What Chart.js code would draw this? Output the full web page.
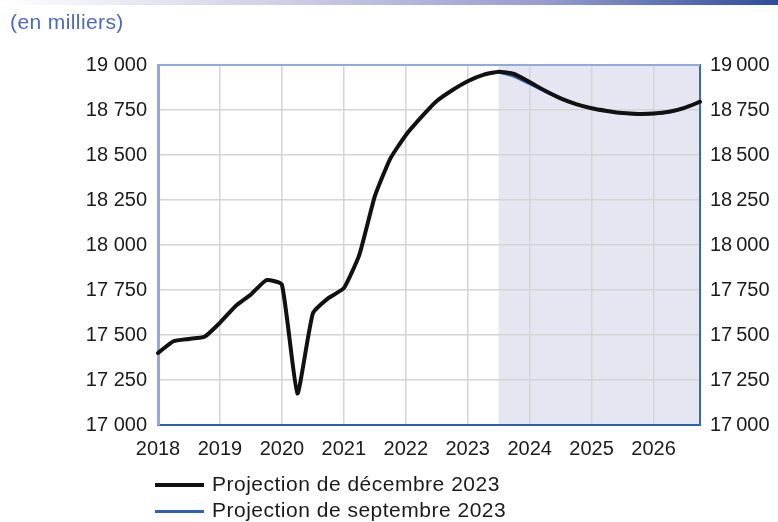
<!DOCTYPE html>
<html><head><meta charset="utf-8">
<script src="https://cdn.jsdelivr.net/npm/chart.js@4.4.0/dist/chart.umd.min.js"></script>
<style>
html,body{margin:0;padding:0;background:#fff;}
#wrap{position:relative;width:778px;height:522px;overflow:hidden;font-family:"Liberation Sans",Arial,sans-serif;}
#bar{position:absolute;left:0;top:0;width:778px;height:5px;background:linear-gradient(to right,#ffffff 0%,#d0d0e8 35%,#979cce 70%,#2d4c9c 100%);}
#title{position:absolute;left:10px;top:10px;font-size:21px;color:#4a6cb6;letter-spacing:0.4px;}
#c{position:absolute;left:0;top:0;}
.leg{position:absolute;left:155px;font-size:21px;color:#1a1a1a;white-space:nowrap;letter-spacing:0.5px;}
.leg i{display:inline-block;width:49px;vertical-align:middle;margin-right:8px;}
</style></head>
<body>
<div id="wrap">
<div id="bar"></div>
<canvas id="c" width="778" height="522"></canvas>
<div id="title">(en milliers)</div>
<div class="leg" id="leg1" style="top:472px;"><i style="height:4px;background:#111;"></i><span id="l1"></span></div>
<div class="leg" id="leg2" style="top:498px;"><i style="height:2.5px;background:#2f5fb8;"></i><span id="l2"></span></div>
</div>
<script>
const quarters = [
 "2018T1","2018T2","2018T3","2018T4","2019T1","2019T2","2019T3","2019T4",
 "2020T1","2020T2","2020T3","2020T4","2021T1","2021T2","2021T3","2021T4",
 "2022T1","2022T2","2022T3","2022T4","2023T1","2023T2","2023T3","2023T4",
 "2024T1","2024T2","2024T3","2024T4","2025T1","2025T2","2025T3","2025T4",
 "2026T1","2026T2","2026T3","2026T4"];
const projectionDec2023 = [17400,17465,17478,17490,17568,17660,17725,17805,
 17780,17175,17620,17705,17760,17945,18270,18480,
 18610,18710,18800,18860,18910,18945,18963,18950,
 18905,18857,18815,18783,18760,18745,18733,18728,
 18730,18740,18762,18796];
const projectionSep2023 = [17400,17465,17478,17490,17568,17660,17725,17805,
 17780,17175,17620,17705,17760,17945,18270,18480,
 18610,18710,18800,18860,18910,18945,18958,18936,
 18895,18852,18813,18781,18758,18743,18731,18726,
 18728,18738,18760,18794];
const seriesNames = ["Projection de décembre 2023","Projection de septembre 2023"];
const projectionStart = "2023T3";
const yTicks = {min:17000,max:19000,step:250};

document.getElementById('l1').textContent = seriesNames[0];
document.getElementById('l2').textContent = seriesNames[1];

function fmt(v, sep){ const s = String(v); return s.slice(0, s.length-3) + sep + s.slice(-3); }

const bgPlugin = {
  id:'bg',
  beforeDraw(chart){
    const {ctx, chartArea:a, scales:{x}} = chart;
    const x0 = x.getPixelForValue(quarters.indexOf(projectionStart));
    ctx.save();
    ctx.fillStyle = '#e6e6f2';
    ctx.fillRect(x0, a.top, a.right - x0, a.bottom - a.top);
    ctx.restore();
  },
  afterDraw(chart){
    const {ctx, chartArea:a} = chart;
    ctx.save();
    ctx.strokeStyle = '#8eaade';
    ctx.lineWidth = 2;
    ctx.beginPath(); ctx.moveTo(a.left, a.top); ctx.lineTo(a.right, a.top); ctx.stroke();
    ctx.restore();
  }
};

const font = {family:'"Liberation Sans", Arial, sans-serif', size:20};
new Chart(document.getElementById('c'), {
  type:'line',
  data:{
    labels: quarters,
    datasets:[
      {label:seriesNames[0], data:projectionDec2023, borderColor:'#111', borderWidth:4, pointRadius:0, tension:0.15, borderJoinStyle:'round', borderCapStyle:'round', yAxisID:'y'},
      {label:seriesNames[1], data:projectionSep2023, borderColor:'#2f5fb8', borderWidth:2.5, pointRadius:0, tension:0.15, yAxisID:'y'}
    ]
  },
  options:{
    responsive:false, animation:false,
    layout:{padding:{top:65,left:0,right:0,bottom:57}},
    plugins:{legend:{display:false}, tooltip:{enabled:false}},
    scales:{
      x:{
        type:'category', offset:false,
        grid:{drawTicks:false, color:'#d4d4d4', lineWidth:1.5},
        border:{color:'#2f5eae', width:2},
        ticks:{autoSkip:false, maxRotation:0, padding:12, color:'#1a1a1a', font,
          callback(v,i){ const q = quarters[i]; return q.endsWith('T1') ? q.slice(0,4) : null; }},
        afterFit(s){ s.height = 40; }
      },
      y:{
        position:'left', min:yTicks.min, max:yTicks.max,
        grid:{drawTicks:false, color:'#d4d4d4', lineWidth:1.5},
        border:{color:'#8eaade', width:3},
        ticks:{stepSize:yTicks.step, padding:11, color:'#1a1a1a', font, callback:v=>fmt(v,' ')},
        afterFit(s){ s.width = 158; }
      },
      y2:{
        position:'right', min:yTicks.min, max:yTicks.max,
        grid:{display:false, drawTicks:false},
        border:{color:'#3a68bc', width:2},
        ticks:{stepSize:yTicks.step, padding:10, color:'#1a1a1a', font, callback:v=>fmt(v,'\u2009')},
        afterFit(s){ s.width = 78; }
      }
    }
  },
  plugins:[bgPlugin]
});
</script>
</body></html>
